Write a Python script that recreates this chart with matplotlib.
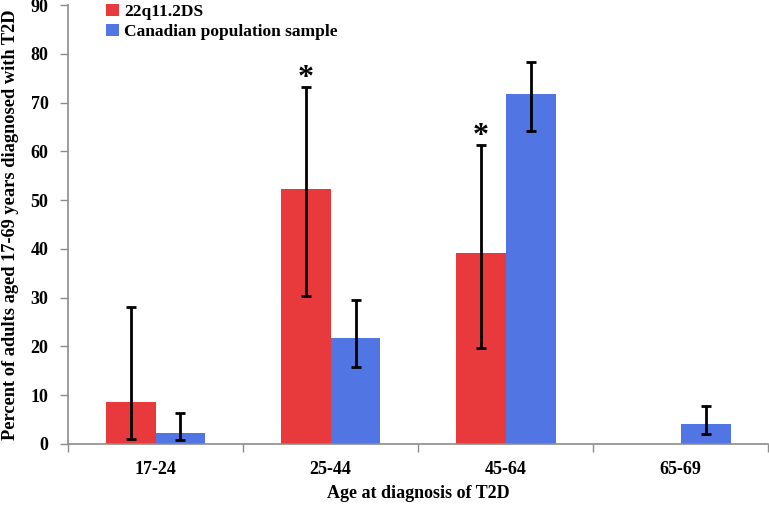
import numpy as np
import matplotlib.pyplot as plt

# Dane
categories = ["17-24", "25-44", "45-64", "65-69"]
deletion = [8.7, 52.2, 39.1, 0.0]
deletion_lo = [1.0, 30.4, 19.7, np.nan]
deletion_hi = [28.0, 73.2, 61.4, np.nan]
canadian = [2.2, 21.8, 71.8, 4.0]
canadian_lo = [0.8, 15.7, 64.1, 2.0]
canadian_hi = [6.3, 29.6, 78.3, 7.7]
significant = [False, True, True, False]

red = "#E8393C"
blue = "#5176E3"
axis_grey = "#8C8C8C"

plt.rcParams['font.family'] = ['Liberation Serif', 'DejaVu Serif']
plt.rcParams['font.weight'] = 'bold'

fig = plt.figure(figsize=(7.69, 5.07), dpi=100)
ax = fig.add_axes([0.0884, 0.1243, 0.9106, 0.8657])

x = np.arange(len(categories))
w = 0.285

ax.bar(x - w / 2, deletion, w, color=red, label="22q11.2DS")
ax.bar(x + w / 2, canadian, w, color=blue, label="Canadian population sample")

d = np.array(deletion)
c = np.array(canadian)
d_err = [d - np.array(deletion_lo), np.array(deletion_hi) - d]
c_err = [c - np.array(canadian_lo), np.array(canadian_hi) - c]
ax.errorbar(x - w / 2, d, yerr=d_err, fmt="none", ecolor="black",
            elinewidth=2, capsize=3.5, capthick=2)
ax.errorbar(x + w / 2, c, yerr=c_err, fmt="none", ecolor="black",
            elinewidth=2, capsize=3.5, capthick=2)

# Gwiazdki istotności
for i, sig in enumerate(significant):
    if sig:
        ax.text(x[i] - w / 2, deletion_hi[i] - 1.3, "*", ha="center",
                va="bottom", fontsize=23, fontweight="bold")

ax.set_xlim(-0.5, len(categories) - 0.5)
ax.set_ylim(0, 90)
ax.set_yticks(np.arange(0, 91, 10))
ax.set_xticks(x)
ax.set_xticklabels(categories)
ax.set_xticks(np.arange(-0.5, len(categories), 1), minor=True)
ax.tick_params(axis="x", which="major", length=0, pad=12, labelsize=13)
ax.tick_params(axis="x", which="minor", length=6, color=axis_grey, width=1)
ax.tick_params(axis="y", length=6, color=axis_grey, width=1, pad=8, labelsize=13)

for s in ["top", "right"]:
    ax.spines[s].set_visible(False)
for s in ["left", "bottom"]:
    ax.spines[s].set_color(axis_grey)
    ax.spines[s].set_linewidth(1.2)

ax.set_ylabel("Percent of adults aged 17-69 years diagnosed with T2D",
              fontsize=13.2, fontweight="bold", va="center")
ax.yaxis.set_label_coords(-0.082, 0.5)
ax.set_xlabel("Age at diagnosis of T2D", fontsize=13, fontweight="bold")
ax.xaxis.set_label_coords(0.5, -0.113)
ax.xaxis.label.set_va("center")

ax.legend(loc="upper left", bbox_to_anchor=(0.045, 1.018), frameon=False,
          fontsize=12.5, handlelength=0.7, handleheight=0.7, handletextpad=0.3,
          labelspacing=0.2, borderaxespad=0)

fig.savefig("out.png", dpi=100)
